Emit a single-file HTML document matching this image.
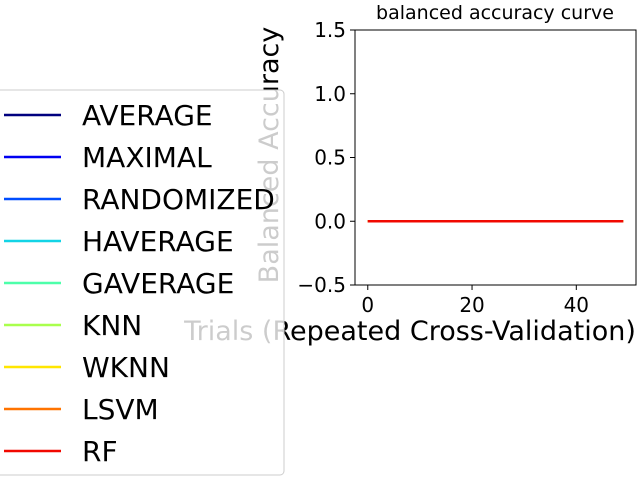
<!DOCTYPE html>
<html><head><meta charset="utf-8"><style>
body{margin:0;background:#fff}
svg{display:block;font-family:"DejaVu Sans","Liberation Sans",sans-serif}
</style></head><body>
<svg id="c" width="640" height="480">
<text x="495" y="19" font-size="19" text-anchor="middle">balanced accuracy curve</text>
<g id="axes"></g>
<text transform="translate(278,155) rotate(-90)" font-size="27" text-anchor="middle">Balanced Accuracy</text>
<text x="410" y="340" font-size="27" text-anchor="middle">Trials (Repeated Cross-Validation)</text>
<g id="legend"></g>
</svg>
<script>
const trials=[...Array(50).keys()];
const seriesNames=["AVERAGE","MAXIMAL","RANDOMIZED","HAVERAGE","GAVERAGE","KNN","WKNN","LSVM","RF"];
const seriesColors=["#00007f","#0000f1","#004dff","#13d4e6","#4dffaa","#a9ff4d","#ffe600","#ff7300","#f10800"];
const seriesValues=seriesNames.map(()=>trials.map(()=>0));
const yTicks=[-0.5,0,0.5,1.0,1.5];
const xTicks=[0,20,40];
const NS="http://www.w3.org/2000/svg";
const L=355,R=636,T=30,B=285;
const xmin=-2.45,xmax=51.45,ymin=-0.5,ymax=1.5;
const X=v=>L+(v-xmin)/(xmax-xmin)*(R-L);
const Y=v=>B-(v-ymin)/(ymax-ymin)*(B-T);
function mk(t,a,p){const e=document.createElementNS(NS,t);for(const k in a)e.setAttribute(k,a[k]);(p||document.getElementById('axes')).appendChild(e);return e;}
seriesNames.forEach((n,i)=>{
 const pts=trials.map((t,j)=>X(t)+","+Y(seriesValues[i][j])).join(" ");
 const pl=mk('polyline',{points:pts,fill:'none',stroke:seriesColors[i],'stroke-width':2.5});
 
 
});
const fr=mk('rect',{x:L,y:T,width:R-L,height:B-T,fill:'none',stroke:'#000','stroke-width':1});


yTicks.forEach(v=>{
 mk('line',{x1:L-5,x2:L,y1:Y(v),y2:Y(v),stroke:'#000'});
 const t=mk('text',{x:L-9,y:Y(v)+7,'font-size':20,'text-anchor':'end'});
 t.textContent=v.toFixed(1).replace('-','\u2212');
 
 
});
xTicks.forEach(v=>{
 mk('line',{x1:X(v),x2:X(v),y1:B,y2:B+5,stroke:'#000'});
 const t=mk('text',{x:X(v),y:B+27,'font-size':20,'text-anchor':'middle'});
 t.textContent=v;
 
 
});
const lg=document.getElementById('legend');
const box=mk('rect',{x:-10,y:90,width:294,height:385,rx:4,fill:'#fff','fill-opacity':0.8,stroke:'#ccc'},lg);


seriesNames.forEach((n,i)=>{
 const y=115+i*42;
 const g=mk('g',{},lg);
 
 
 mk('line',{x1:4,x2:61,y1:y,y2:y,stroke:seriesColors[i],'stroke-width':2.5},g);
 const t=mk('text',{x:82,y:y+10,'font-size':28},g);
 t.textContent=n;
});
</script>
</body></html>
